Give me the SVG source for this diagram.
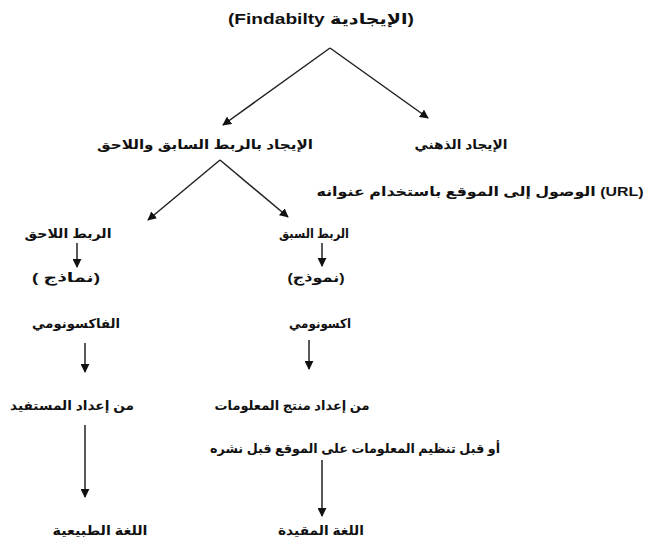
<svg xmlns="http://www.w3.org/2000/svg" width="646" height="548" viewBox="0 0 646 548">
<defs>
<marker id="ah" viewBox="0 0 10 10" refX="9" refY="5" markerWidth="9" markerHeight="9" markerUnits="userSpaceOnUse" orient="auto">
<path d="M0,0 L10,5 L0,10 z" fill="#111"/>
</marker>
<style>
.t{font-family:"Liberation Sans","DejaVu Sans",sans-serif;font-weight:bold;font-size:13px;fill:#111;text-anchor:middle}
.ar{direction:rtl}
.c{stroke:#222;stroke-width:1.5;fill:none;marker-end:url(#ah)}
</style>
</defs>
<rect width="646" height="548" fill="#fff"/>
<g id="connectors">
<path class="c" d="M330,48 L223,125"/>
<path class="c" d="M330,48 L428,118"/>
<path class="c" d="M220,160 L148,220"/>
<path class="c" d="M220,160 L288,217"/>
<path class="c" d="M77,243 L77,267"/>
<path class="c" d="M322,243 L322,266"/>
<path class="c" d="M85,343 L85,372"/>
<path class="c" d="M309,340 L309,369"/>
<path class="c" d="M85,425 L85,497"/>
<path class="c" d="M322,460 L322,516"/>
</g>
<g id="root"><text class="t" x="321" y="24" style="font-size:15px;direction:ltr" textLength="186" lengthAdjust="spacingAndGlyphs">(Findabilty الإيجادية)</text></g>
<g id="prepost"><text class="t ar" x="205" y="149" textLength="216" lengthAdjust="spacingAndGlyphs">الإيجاد بالربط السابق واللاحق</text></g>
<g id="mental"><text class="t ar" x="461" y="149" textLength="93" lengthAdjust="spacingAndGlyphs">الإيجاد الذهني</text></g>
<g id="url"><text class="t" x="480" y="196" style="direction:ltr" textLength="327" lengthAdjust="spacingAndGlyphs">الوصول إلى الموقع باستخدام عنوانه (URL)</text></g>
<g id="post"><text class="t ar" x="68" y="238" textLength="87" lengthAdjust="spacingAndGlyphs">الربط اللاحق</text></g>
<g id="pre"><text class="t ar" x="314" y="238" textLength="70" lengthAdjust="spacingAndGlyphs">الربط السبق</text></g>
<g id="models"><text class="t ar" x="66" y="282" textLength="68" lengthAdjust="spacingAndGlyphs">(نماذج )</text></g>
<g id="model"><text class="t ar" x="316" y="282" textLength="57" lengthAdjust="spacingAndGlyphs">(نموذج)</text></g>
<g id="folk"><text class="t ar" x="76" y="328" textLength="88" lengthAdjust="spacingAndGlyphs">الفاكسونومي</text></g>
<g id="taxo"><text class="t ar" x="320" y="328" textLength="62" lengthAdjust="spacingAndGlyphs">اكسونومي</text></g>
<g id="user"><text class="t ar" x="72" y="410" textLength="124" lengthAdjust="spacingAndGlyphs">من إعداد المستفيد</text></g>
<g id="producer"><text class="t ar" x="292" y="410" textLength="155" lengthAdjust="spacingAndGlyphs">من إعداد منتج المعلومات</text></g>
<g id="organize"><text class="t ar" x="355" y="453" textLength="290" lengthAdjust="spacingAndGlyphs">أو قبل تنظيم المعلومات على الموقع قبل نشره</text></g>
<g id="natural"><text class="t ar" x="100" y="535" textLength="95" lengthAdjust="spacingAndGlyphs">اللغة الطبيعية</text></g>
<g id="controlled"><text class="t ar" x="321" y="535" textLength="86" lengthAdjust="spacingAndGlyphs">اللغة المقيدة</text></g>
</svg>
